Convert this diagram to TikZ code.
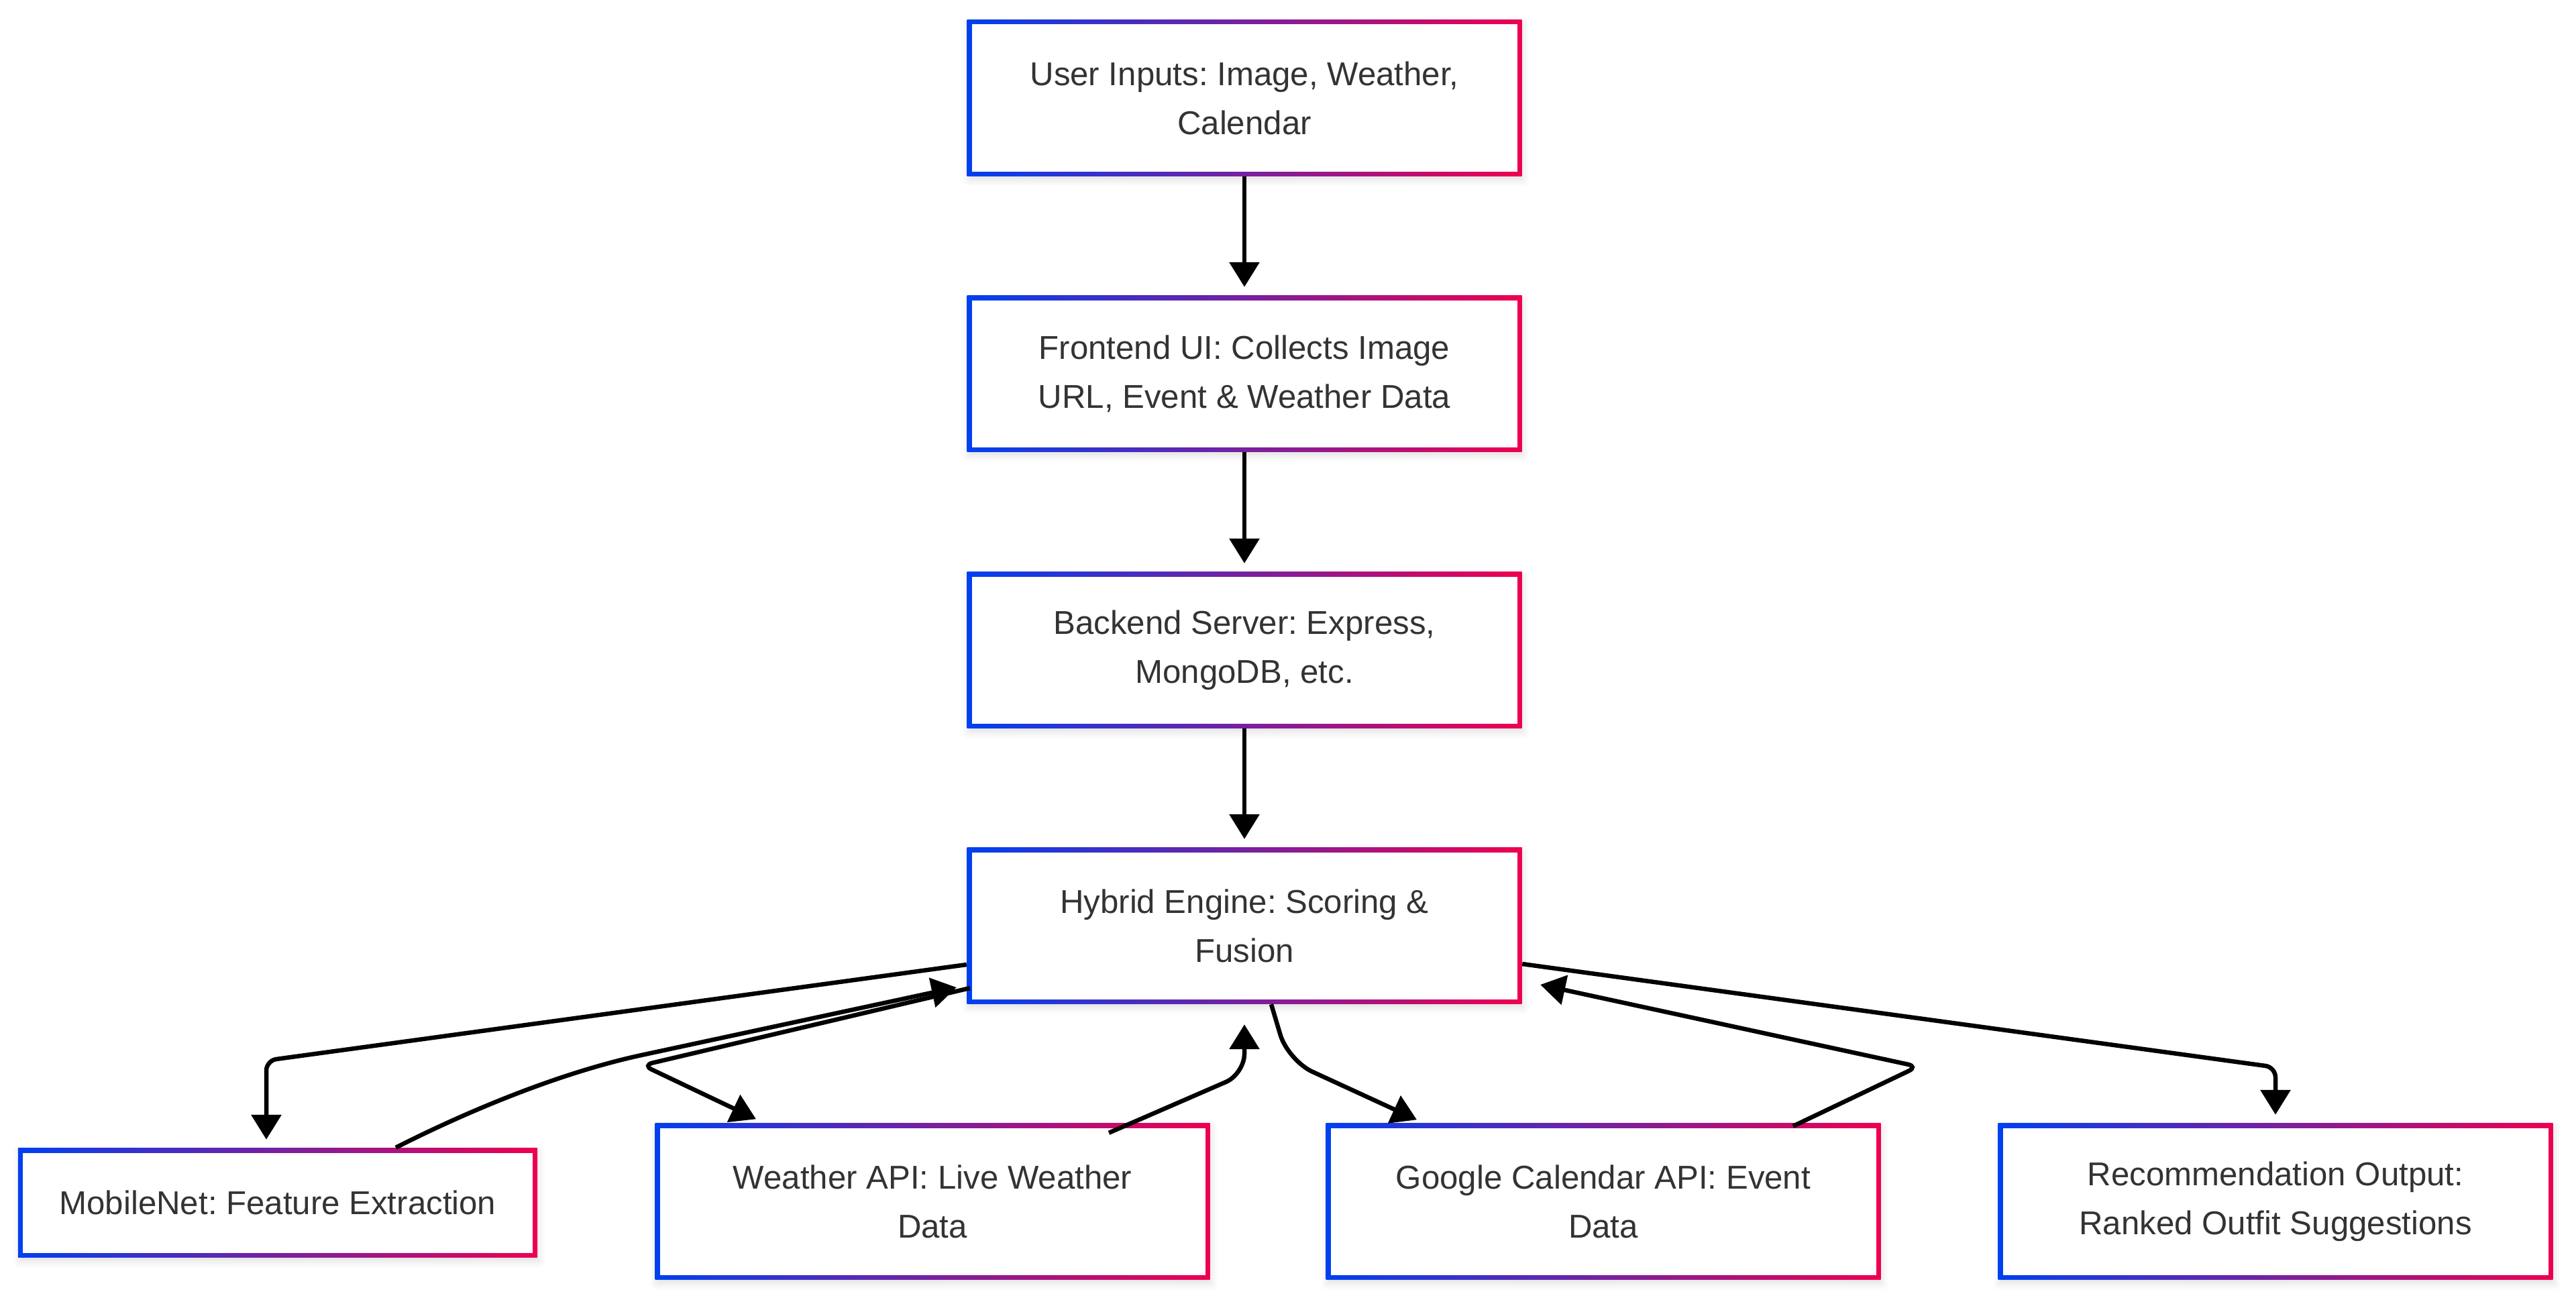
\documentclass[tikz,border=0pt]{standalone}
\usepackage{fontspec}
\setmainfont{Liberation Sans}
\frenchspacing
\usetikzlibrary{arrows.meta,shadows.blur}
\definecolor{edgeblue}{HTML}{0040F0}
\definecolor{edgered}{HTML}{EE0050}
\definecolor{txtgrey}{HTML}{333333}

\begin{document}
\begin{tikzpicture}[y=-1cm,
	box/.style={rectangle,minimum width=8.27cm,minimum height=2.33cm,inner sep=0pt,align=center,text=txtgrey,
		font=\fontsize{14pt}{20.8pt}\selectfont,left color=edgeblue,right color=edgered,
		blur shadow={shadow xshift=0.02cm,shadow yshift=-0.06cm,shadow blur radius=0.1cm,shadow opacity=12},
		path picture={\fill[white] ([shift={(0.07cm,0.07cm)}]path picture bounding box.south west) rectangle ([shift={(-0.07cm,-0.07cm)}]path picture bounding box.north east);}},
	arr/.style={-{Triangle[length=0.37cm,width=0.44cm]},line width=0.065cm,black,rounded corners=0.15cm}]
			\useasboundingbox (0,0) rectangle (38.40,19.43);
			
			\node[box] (p1) at (18.55,1.46){User Inputs: Image, Weather,\\Calendar};
			\node[box] (p2) at (18.55,5.57){Frontend UI: Collects Image\\URL, Event \& Weather Data};
			\node[box] (p3) at (18.55,9.69){Backend Server: Express,\\MongoDB, etc.};
			\node[box] (p4) at (18.55,13.80){Hybrid Engine: Scoring \&\\Fusion};
			
			\node[box,minimum width=7.74cm,minimum height=1.63cm] (p5) at (4.14,17.93){MobileNet: Feature Extraction};
			\node[box] (p6) at (13.90,17.91){Weather API: Live Weather\\Data};
			\node[box] (p7) at (23.90,17.91){Google Calendar API: Event\\Data};
			\node[box] (p8) at (33.92,17.91){Recommendation Output:\\Ranked Outfit Suggestions};
			
			\draw (p1) edge [arr, shorten >=0.12cm] (p2);
			\draw (p2) edge [arr, shorten >=0.12cm] (p3);
			\draw (p3) edge [arr, shorten >=0.12cm] (p4);
			
			\draw[arr, shorten >=0.12cm] ([shift={(0,0.58)}]p4.west) -- (3.97,15.81) -- ([shift={(-0.17,0)}]p5.north);
			\draw[arr] ([shift={(1.76,0)}]p5.north) .. controls (7.2,16.45) and (8.5,15.96) .. (9.7,15.70) -- ([shift={(-0.15,0.92)}]p4.west);
			\draw[arr] ([shift={(0.05,0.93)}]p4.west) -- (9.58,15.88) -- ([shift={(-2.63,-0.055)}]p6.north);
			\draw[arr, rounded corners=0.3cm] ([shift={(2.63,0.15)}]p6.north) -- (18.55,16.01) -- ([shift={(0,0.30)}]p4.south);
			\draw[arr, rounded corners=0.4cm] ([shift={(0.40,0)}]p4.south) -- (19.20,15.81) -- ([shift={(-2.78,-0.045)}]p7.north);
			\draw[arr] ([shift={(2.83,0.05)}]p7.north) -- (28.59,15.90) -- ([shift={(0.27,0.88)}]p4.east);
			\draw[arr, shorten >=0.12cm] ([shift={(0,0.57)}]p4.east) -- (33.92,15.91) -- (p8.north);
		\end{tikzpicture}
\end{document}
